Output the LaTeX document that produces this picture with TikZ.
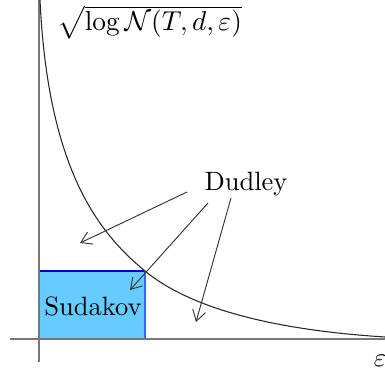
\documentclass[tikz,border=0pt]{standalone}
\usetikzlibrary{arrows.meta}
\definecolor{fillblue}{RGB}{102,204,255}
\definecolor{edgeblue}{RGB}{0,0,204}
\definecolor{edgeblue2}{RGB}{51,102,255}
\definecolor{axisgray}{RGB}{120,120,120}
\begin{document}
\begin{tikzpicture}[x=0.377pt,y=-0.377pt,
  axis/.style={draw=axisgray,line width=0.6pt},
  curve/.style={draw=black!85,line width=0.4pt},
  pointer/.style={draw=black!80,line width=0.35pt,-{Straight Barb[length=4pt,width=5pt]}},
  lbl/.style={inner sep=0pt,font=\normalsize}]
\useasboundingbox (0,0) rectangle (385,374);
% rectangle
\fill[fillblue] (39,271) rectangle (145,339);
\draw[edgeblue,line width=0.45pt] (39,271) -- (145,271);
\draw[edgeblue2,line width=0.45pt] (145,271) -- (145,339);
% axes
\draw[axis] (10,339) -- (385,339);
\draw[axis] (39,0) -- (39,362);
% curve
\draw[curve] (40,0) .. controls (48,170) and (98.7,232.9) .. (145,271)
  .. controls (191.3,309.1) and (275,330) .. (385,337);
% labels
\node[lbl,anchor=base west,scale=1.03] (ylab) at (57,31) {$\sqrt{\log\mathcal{N}(T,d,\varepsilon)}$};
\node[lbl,anchor=base] (xlab) at (380,366) {$\varepsilon$};
\node[lbl] (dudley) at (246,184) {Dudley};
\node[lbl] (sudakov) at (93,306) {Sudakov};
% pointer ends
\coordinate (s1) at (187,192);
\coordinate (s2) at (208,203);
\coordinate (s3) at (231,198);
\coordinate (t1) at (80,243);
\coordinate (t2) at (130,290);
\coordinate (t3) at (196,322);
\draw[pointer] (s1) -- (t1);
\draw[pointer] (s2) -- (t2);
\draw[pointer] (s3) -- (t3);
\end{tikzpicture}
\end{document}
